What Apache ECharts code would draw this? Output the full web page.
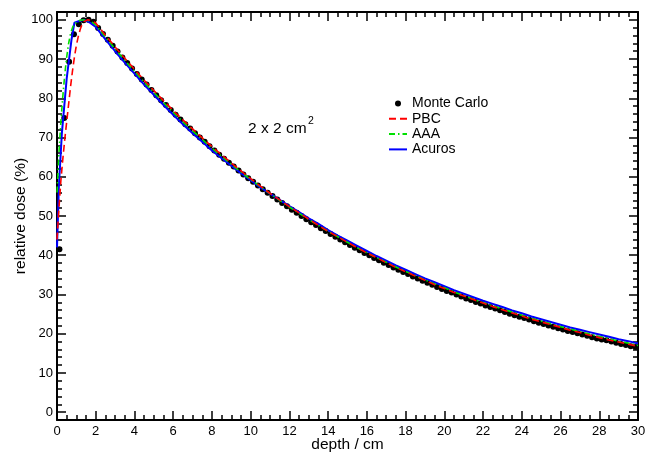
<!DOCTYPE html>
<html>
<head>
<meta charset="utf-8">
<script src="https://cdn.jsdelivr.net/npm/echarts@6.0.0/dist/echarts.min.js"></script>
<style>
html, body { margin: 0; padding: 0; background: #fff; }
#showChart { width: 651px; height: 458px; }
</style>
</head>
<body>
<div id="showChart"></div>
<script>
// depth dose curves, 2 x 2 cm2 field
var depthMC = [0.125,0.375,0.625,0.875,1.125,1.375,1.625,1.875,2.125,2.375,2.625,2.875,3.125,3.375,3.625,3.875,
  4.125,4.375,4.625,4.875,5.125,5.375,5.625,5.875,6.125,6.375,6.625,6.875,7.125,7.375,7.625,7.875,
  8.125,8.375,8.625,8.875,9.125,9.375,9.625,9.875,10.125,10.375,10.625,10.875,11.125,11.375,11.625,11.875,
  12.125,12.375,12.625,12.875,13.125,13.375,13.625,13.875,14.125,14.375,14.625,14.875,15.125,15.375,15.625,15.875,
  16.125,16.375,16.625,16.875,17.125,17.375,17.625,17.875,18.125,18.375,18.625,18.875,19.125,19.375,19.625,19.875,
  20.125,20.375,20.625,20.875,21.125,21.375,21.625,21.875,22.125,22.375,22.625,22.875,23.125,23.375,23.625,23.875,
  24.125,24.375,24.625,24.875,25.125,25.375,25.625,25.875,26.125,26.375,26.625,26.875,27.125,27.375,27.625,27.875,
  28.125,28.375,28.625,28.875,29.125,29.375,29.625,29.875];
var doseMC = [41.5,75.0,89.3,96.3,98.9,99.9,100.0,99.5,97.9,96.4,94.9,93.4,91.9,90.4,89.0,87.6,
  86.2,84.8,83.5,82.1,80.8,79.5,78.3,77.0,75.8,74.6,73.4,72.3,71.1,70.0,68.9,67.8,
  66.7,65.6,64.6,63.6,62.6,61.6,60.6,59.6,58.7,57.8,56.8,55.9,55.1,54.2,53.3,52.5,
  51.6,50.8,50.0,49.2,48.4,47.7,46.9,46.2,45.4,44.7,44.0,43.3,42.6,41.9,41.3,40.6,
  40.0,39.3,38.7,38.1,37.5,36.9,36.3,35.7,35.2,34.6,34.1,33.5,33.0,32.5,31.9,31.4,
  30.9,30.5,30.0,29.5,29.0,28.6,28.1,27.7,27.2,26.8,26.4,26.0,25.5,25.1,24.7,24.3,
  24.0,23.6,23.2,22.8,22.5,22.1,21.8,21.4,21.1,20.7,20.4,20.1,19.8,19.5,19.1,18.8,
  18.5,18.3,18.0,17.7,17.4,17.1,16.8,16.6];

// build-up region of the calculated curves
var depthPBCBuild = [0,0.1,0.2,0.3,0.4,0.5,0.6,0.7,0.8,0.9,1.0,1.1,1.2,1.3,1.4,1.5,1.6,1.8];
var dosePBCBuild = [44,52,59,64.5,69.5,74,78.5,83,87,90.5,93.5,95.8,97.6,98.9,99.6,100,100,99.8];
var depthAAABuild = [0,0.1,0.2,0.3,0.4,0.5,0.6,0.7,0.8,0.9,1.0,1.2,1.4,1.6,1.8];
var doseAAABuild = [56,66,74,80.5,86,90.5,94,96.5,98,99,99.5,99.9,100,99.8,99.4];
var depthAcurosBuild = [0,0.1,0.25,0.5,0.75,0.9,1.15,1.4,1.7];
var doseAcurosBuild = [42,58,71,85,95,99.3,99.7,100,99.3];

// fall-off region, shared depths
var depthTail = [2,2.5,3,3.5,4,4.5,5,5.5,6,6.5,7,7.5,8,8.5,9,9.5,10,10.5,11,11.5,12,12.5,13,13.5,14,14.5,
  15,15.5,16,16.5,17,17.5,18,18.5,19,19.5,20,20.5,21,21.5,22,22.5,23,23.5,24,24.5,25,25.5,26,26.5,
  27,27.5,28,28.5,29,29.5,30];
var dosePBCTail = [99.2,96.1,93.1,90.2,87.4,84.6,82.0,79.4,76.9,74.5,72.2,69.9,67.7,65.6,63.5,61.5,59.5,57.6,
  55.8,54.1,52.4,50.8,49.2,47.6,46.1,44.7,43.3,41.9,40.6,39.4,38.1,36.9,35.8,34.7,33.6,32.5,31.5,30.5,
  29.6,28.7,27.8,26.9,26.1,25.3,24.5,23.7,23.0,22.3,21.6,20.9,20.3,19.6,19.0,18.4,17.9,17.3,16.8];
var doseAAATail = [98.7,95.6,92.6,89.7,86.9,84.1,81.5,78.9,76.4,74.0,71.7,69.5,67.3,65.2,63.2,61.2,59.3,57.5,
  55.7,54.0,52.3,50.7,49.1,47.6,46.1,44.7,43.3,41.9,40.6,39.4,38.2,37.0,35.9,34.8,33.7,32.7,31.7,30.7,
  29.7,28.8,27.9,27.1,26.3,25.5,24.7,23.9,23.2,22.5,21.8,21.2,20.5,19.9,19.3,18.7,18.1,17.6,17.0];
var doseAcurosTail = [98.2,95.0,92.0,89.1,86.3,83.5,80.9,78.3,75.8,73.4,71.1,68.9,66.7,64.7,62.8,60.9,59.1,57.3,
  55.7,54.1,52.5,51.0,49.4,48.0,46.4,45.0,43.7,42.4,41.1,39.8,38.6,37.4,36.3,35.2,34.1,33.1,32.1,31.1,
  30.2,29.3,28.4,27.6,26.8,25.9,25.2,24.4,23.7,23.0,22.3,21.6,21.0,20.4,19.8,19.2,18.6,18.1,17.5];

var yMajor = [0,10,20,30,40,50,60,70,80,90,100];

function pairs(xs, ys)
{
  var out = [];
  for (var i = 0; i < xs.length; i++) out.push([xs[i], ys[i]]);
  return out;
}

var font = "'Liberation Sans', Arial, sans-serif";
var black = '#000';

var myChart = echarts.init(document.getElementById('showChart'), null, {renderer: 'canvas'});

function yAx(pos, major, labels)
{
  return {
    type: 'value', position: pos, min: -2, max: 102,
    interval: major ? null : 2,
    name: labels ? 'relative dose (%)' : '',
    nameLocation: 'middle', nameGap: 28, nameMoveOverlap: false,
    nameTextStyle: {fontSize: 15.5, color: black, fontFamily: font},
    axisLine: {show: !major, onZero: false, lineStyle: {color: black, width: 2}},
    axisTick: major ? {show: true, inside: true, length: 9, customValues: yMajor, lineStyle: {color: black, width: 1.5}}
                    : {show: true, inside: true, length: 5, lineStyle: {color: black, width: 1.5}},
    axisLabel: labels ? {show: true, customValues: yMajor, fontSize: 13, color: black, fontFamily: font, margin: 4}
                      : {show: false},
    splitLine: {show: false}
  };
}

function xAx(pos, labels)
{
  return {
    type: 'value', position: pos, min: 0, max: 30, interval: 2,
    name: labels ? 'depth / cm' : '',
    nameLocation: 'middle', nameGap: 17, nameMoveOverlap: false,
    nameTextStyle: {fontSize: 15.5, color: black, fontFamily: font},
    axisLine: {show: true, onZero: false, lineStyle: {color: black, width: 2}},
    axisTick: {show: true, inside: true, length: 9, lineStyle: {color: black, width: 1.5}},
    minorTick: {show: true, splitNumber: 4, length: 5, lineStyle: {color: black, width: 1.5}},
    axisLabel: {show: labels, fontSize: 13, color: black, fontFamily: font, margin: 5},
    splitLine: {show: false}
  };
}

option = {
  animation: false,
  backgroundColor: '#fff',
  grid: {left: 57, right: 13, top: 12, bottom: 38, containLabel: false, outerBoundsMode: 'none'},
  xAxis: [xAx('bottom', true), xAx('top', false)],
  yAxis: [yAx('left', false, false), yAx('left', true, true), yAx('right', false, false), yAx('right', true, false)],
  legend: {
    orient: 'vertical', left: 383, top: 91,
    itemWidth: 18, itemHeight: 6, itemGap: 0.3,
    itemStyle: {opacity: 0},
    textStyle: {fontSize: 14, color: black, fontFamily: font, lineHeight: 15},
    data: [{name: 'Monte Carlo', icon: 'circle', itemStyle: {opacity: 1}}, 'PBC', 'AAA', 'Acuros']
  },
  graphic: [
    {type: 'text', left: 248, top: 121, style: {text: '2 x 2 cm', fontSize: 15.5, fill: black, fontFamily: font}},
    {type: 'text', left: 308, top: 116, style: {text: '2', fontSize: 10.5, fill: black, fontFamily: font}}
  ],
  series: [
    {
      name: 'Monte Carlo', type: 'scatter', z: 2,
      symbol: 'circle', symbolSize: 6,
      itemStyle: {color: black, opacity: 1},
      data: pairs(depthMC, doseMC)
    },
    {
      name: 'PBC', type: 'line', z: 5, symbol: 'none',
      itemStyle: {color: '#ff0000'},
      lineStyle: {color: '#ff0000', width: 1.6, type: [7, 4]},
      data: pairs(depthPBCBuild.concat(depthTail), dosePBCBuild.concat(dosePBCTail))
    },
    {
      name: 'AAA', type: 'line', z: 4, symbol: 'none',
      itemStyle: {color: '#00e000'},
      lineStyle: {color: '#00e000', width: 1.6, type: [6, 3, 1.5, 3]},
      data: pairs(depthAAABuild.concat(depthTail), doseAAABuild.concat(doseAAATail))
    },
    {
      name: 'Acuros', type: 'line', z: 3, symbol: 'none',
      itemStyle: {color: '#0000ff'},
      lineStyle: {color: '#0000ff', width: 2},
      data: pairs(depthAcurosBuild.concat(depthTail), doseAcurosBuild.concat(doseAcurosTail))
    }
  ]
};

myChart.setOption(option);
</script>
</body>
</html>
